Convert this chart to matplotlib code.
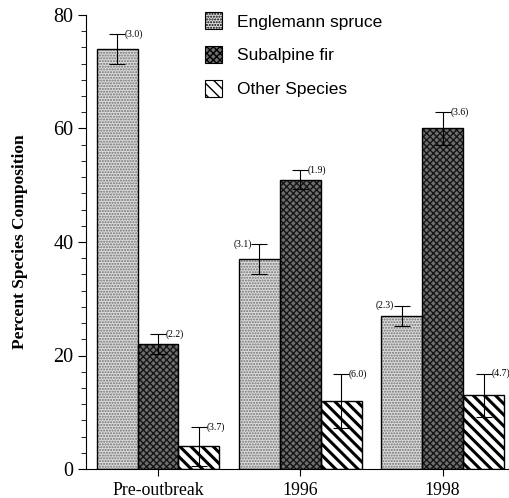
import numpy as np
import matplotlib
matplotlib.use('Agg')
from matplotlib import pyplot as plt
from matplotlib.ticker import MultipleLocator
from matplotlib.patches import Patch

# data
groups = ['Pre-outbreak', '1996', '1998']
species = ['Englemann spruce', 'Subalpine fir', 'Other Species']
spruce = [74, 37, 27]
fir = [22, 51, 60]
other = [4, 12, 13]
# drawn error bar half-lengths (as they appear)
spruce_err = [2.6, 2.6, 1.8]
fir_err = [1.8, 1.6, 2.9]
other_err = [3.4, 4.7, 3.8]
# printed labels
spruce_lab = ['(3.0)', '(3.1)', '(2.3)']
fir_lab = ['(2.2)', '(1.9)', '(3.6)']
other_lab = ['(3.7)', '(6.0)', '(4.7)']
spruce_side = ['right', 'left', 'left']

serif = ['Liberation Serif', 'DejaVu Serif']
sans = ['Liberation Sans', 'DejaVu Sans']

fig = plt.figure(figsize=(5.09, 4.98), dpi=100)
ax = fig.add_axes([86/509, 29/498, 1 - 86/509, 454/498])

x = np.arange(len(groups))
w = 0.288
styles = [
    dict(face='#dcdcdc', hatch='......', hc='#707070', hlw=1.0),
    dict(face='#6e6e6e', hatch='xxxxx', hc='#151515', hlw=1.0),
    dict(face='white', hatch='\\\\\\', hc='black', hlw=2.2),
]
series = [spruce, fir, other]
errs = [spruce_err, fir_err, other_err]
labs = [spruce_lab, fir_lab, other_lab]

for i, (vals, st) in enumerate(zip(series, styles)):
    xs = x + (i - 1) * w
    with plt.rc_context({'hatch.linewidth': st['hlw']}):
        ax.bar(xs, vals, w, color=st['face'], hatch=st['hatch'],
               edgecolor=st['hc'], linewidth=0, zorder=2)
    ax.bar(xs, vals, w, fill=False, edgecolor='black', linewidth=1.0, zorder=3)
    ax.errorbar(xs, vals, yerr=errs[i], fmt='none', ecolor='black',
                elinewidth=0.8, capsize=5.5, capthick=0.8, zorder=4)
    for j in range(len(groups)):
        top = vals[j] + errs[i][j]
        side = spruce_side[j] if i == 0 else 'right'
        if side == 'right':
            ax.annotate(labs[i][j], (xs[j], top), xytext=(5.5, 0),
                        textcoords='offset points', ha='left', va='center',
                        fontsize=7, family=serif, zorder=5, annotation_clip=False)
        else:
            ax.annotate(labs[i][j], (xs[j], top), xytext=(-5.5, 0),
                        textcoords='offset points', ha='right', va='center',
                        fontsize=7, family=serif, zorder=5)

ax.set_xlim(-0.506, 2.467)
ax.set_ylim(0, 80)
ax.set_xticks(x)
ax.set_xticklabels(groups, family=serif, fontsize=12.8)
ax.yaxis.set_major_locator(MultipleLocator(20))
ax.yaxis.set_minor_locator(MultipleLocator(20/7))
for lab in ax.get_yticklabels():
    lab.set_family(serif)
    lab.set_fontsize(14.5)
ax.tick_params(axis='y', which='major', length=6, width=0.8, direction='out', pad=3)
ax.tick_params(axis='y', which='minor', length=3.5, width=0.6, direction='out')
ax.tick_params(axis='x', length=5, width=0.8, direction='out', pad=4)
ax.spines['top'].set_visible(False)
ax.spines['right'].set_visible(False)
ax.set_ylabel('Percent Species Composition', family=serif, fontweight='bold',
              fontsize=12.5, labelpad=18)

handles = []
for st in styles:
    handles.append(Patch(facecolor=st['face'], hatch=st['hatch'], edgecolor='black',
                         linewidth=0.8))
leg = ax.legend(handles, species, loc='upper left', bbox_to_anchor=(0.245, 1.04),
                frameon=False, prop={'family': sans, 'size': 12.5},
                handlelength=0.95, handleheight=1.1, handletextpad=0.9,
                labelspacing=0.95)

fig.savefig('out.png', dpi=100)
